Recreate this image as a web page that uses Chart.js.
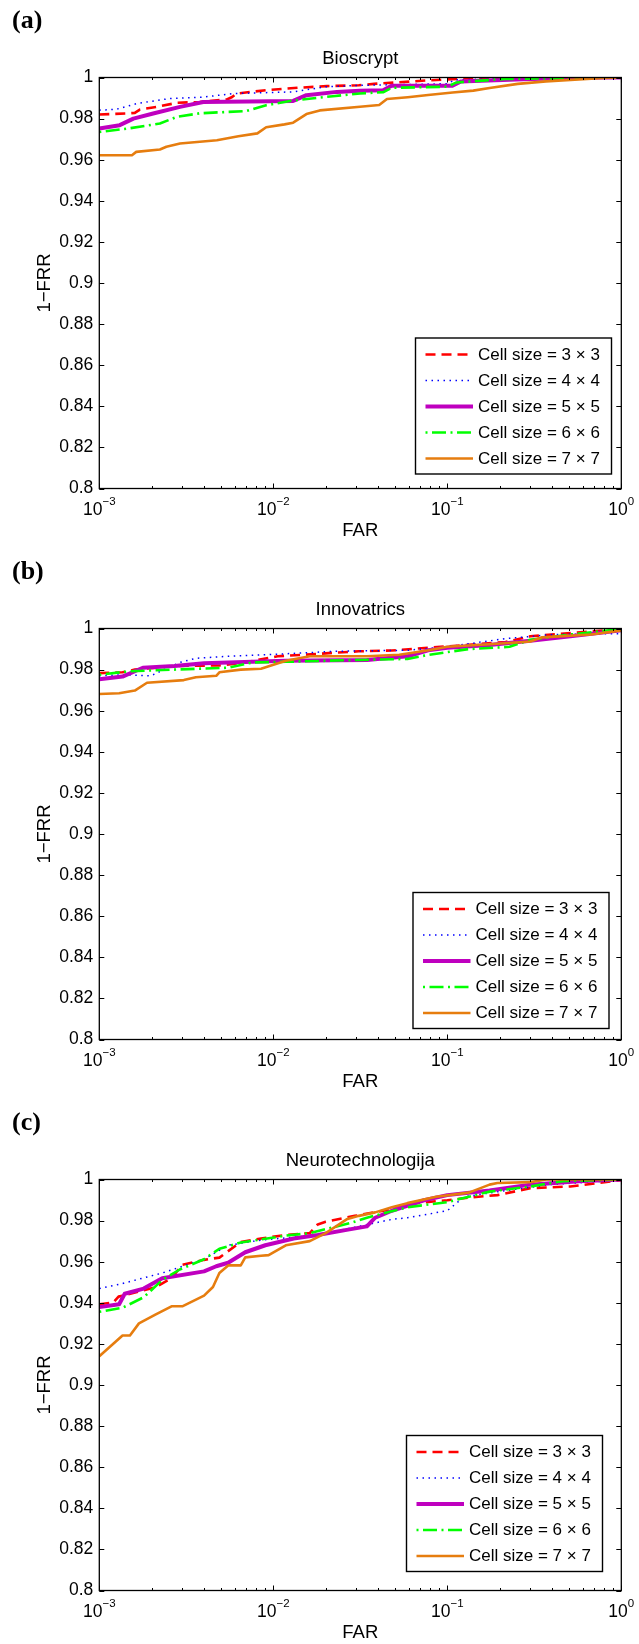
<!DOCTYPE html>
<html>
<head>
<meta charset="utf-8">
<title>ROC curves - cell size</title>
<script src="https://cdn.jsdelivr.net/npm/chart.js@4.4.1/dist/chart.umd.min.js"></script>
<style>
    body { margin: 0; background: #fff; width: 639px; height: 1644px; position: relative; overflow: hidden; }
    .panel { position: absolute; left: 0; width: 639px; }
    canvas { display: block; }
</style>
</head>
<body>
<div class="panel" style="top:0;height:551px"><canvas id="chartA" width="639" height="551"></canvas></div>
<div class="panel" style="top:551px;height:551px"><canvas id="chartB" width="639" height="551"></canvas></div>
<div class="panel" style="top:1102px;height:542px"><canvas id="chartC" width="639" height="542"></canvas></div>

<script>
// 1-FRR vs FAR, one panel per matcher

var farTicks = [0.001, 0.01, 0.1, 1];
var farTickExps = ['\u22123', '\u22122', '\u22121', '0'];
var cellLabels = ['Cell size = 3 \u00d7 3', 'Cell size = 4 \u00d7 4', 'Cell size = 5 \u00d7 5', 'Cell size = 6 \u00d7 6', 'Cell size = 7 \u00d7 7'];

// (a) Bioscrypt
var bioFar33 = [0.001, 0.00144, 0.0016, 0.00171, 0.00214, 0.0028, 0.00379, 0.00541, 0.0058, 0.00616, 0.0091, 0.0138, 0.0203, 0.031, 0.038, 0.0776, 0.125, 0.5, 1];
var bioRate33 = [0.982, 0.9825, 0.9828, 0.9844, 0.9857, 0.9877, 0.9881, 0.9893, 0.9905, 0.9922, 0.9938, 0.995, 0.9958, 0.9962, 0.9969, 0.9986, 0.9995, 1, 1];
var bioFar44 = [0.001, 0.00125, 0.00164, 0.00255, 0.004, 0.0059, 0.013, 0.02, 0.0315, 0.06, 0.1, 0.11, 0.175, 0.4, 1];
var bioRate44 = [0.9841, 0.9845, 0.9873, 0.9898, 0.9905, 0.9922, 0.993, 0.9955, 0.9962, 0.9966, 0.997, 0.9988, 0.9993, 1, 1];
var bioFar55 = [0.001, 0.00131, 0.00157, 0.00204, 0.00291, 0.00396, 0.013, 0.0155, 0.0232, 0.0315, 0.0428, 0.0478, 0.107, 0.119, 0.3, 0.8, 1];
var bioRate55 = [0.9752, 0.9768, 0.98, 0.9825, 0.9857, 0.9881, 0.9886, 0.9914, 0.993, 0.9935, 0.9938, 0.996, 0.996, 0.998, 0.9993, 1, 1];
var bioFar66 = [0.001, 0.00144, 0.00223, 0.00278, 0.00379, 0.007, 0.0091, 0.013, 0.022, 0.0315, 0.043, 0.048, 0.1, 0.113, 0.216, 1];
var bioRate66 = [0.9735, 0.9751, 0.9776, 0.9808, 0.9826, 0.9837, 0.9865, 0.9888, 0.9909, 0.9922, 0.9929, 0.995, 0.9955, 0.9976, 0.9993, 1];
var bioFar77 = [0.001, 0.00154, 0.00163, 0.00223, 0.00243, 0.00291, 0.00474, 0.0063, 0.0081, 0.0091, 0.0116, 0.013, 0.0155, 0.0185, 0.0315, 0.0406, 0.045, 0.0592, 0.0776, 0.1073, 0.141, 0.175, 0.254, 0.369, 0.79, 1];
var bioRate77 = [0.9622, 0.9622, 0.9638, 0.965, 0.9663, 0.9679, 0.9695, 0.9714, 0.9728, 0.9758, 0.9772, 0.978, 0.9822, 0.984, 0.9858, 0.9866, 0.9895, 0.9904, 0.9915, 0.9927, 0.9936, 0.9949, 0.9969, 0.9981, 0.9998, 1];

// (b) Innovatrics
var innFar33 = [0.001, 0.00136, 0.0016, 0.00274, 0.0049, 0.00686, 0.0106, 0.018, 0.0224, 0.031, 0.048, 0.1, 0.216, 0.3, 1];
var innRate33 = [0.9783, 0.9787, 0.98, 0.9818, 0.982, 0.9835, 0.9865, 0.9876, 0.9882, 0.9889, 0.9893, 0.9913, 0.9934, 0.9962, 0.9997];
var innFar44 = [0.001, 0.00136, 0.00198, 0.0029, 0.00359, 0.0055, 0.0118, 0.0224, 0.059, 0.1, 0.156, 0.216, 0.41, 1];
var innRate44 = [0.977, 0.9775, 0.977, 0.9835, 0.9855, 0.9865, 0.9877, 0.9889, 0.9894, 0.9911, 0.9934, 0.9951, 0.9971, 0.9975];
var innFar55 = [0.001, 0.00136, 0.00178, 0.0027, 0.004, 0.0076, 0.0118, 0.0345, 0.0592, 0.0776, 0.1, 0.175, 0.3, 0.51, 1];
var innRate55 = [0.9753, 0.9766, 0.9809, 0.9818, 0.9831, 0.9838, 0.9843, 0.9847, 0.9865, 0.9894, 0.9906, 0.992, 0.994, 0.9962, 0.9991];
var innFar66 = [0.001, 0.0015, 0.0036, 0.0055, 0.0076, 0.0118, 0.031, 0.059, 0.078, 0.133, 0.228, 0.3, 0.51, 1];
var innRate66 = [0.9775, 0.9792, 0.9804, 0.9809, 0.9835, 0.9838, 0.9847, 0.9852, 0.9872, 0.99, 0.9911, 0.9945, 0.9971, 0.9997];
var innFar77 = [0.001, 0.0013, 0.0016, 0.00188, 0.00306, 0.00359, 0.0047, 0.0049, 0.0065, 0.0085, 0.0118, 0.0162, 0.0345, 0.053, 0.078, 0.1, 0.175, 0.3, 0.35, 0.67, 1];
var innRate77 = [0.9681, 0.9685, 0.9698, 0.9736, 0.9749, 0.9763, 0.977, 0.9787, 0.98, 0.9804, 0.9843, 0.9865, 0.9865, 0.9872, 0.9894, 0.9911, 0.9923, 0.9937, 0.9957, 0.9971, 0.9991];

// (c) Neurotechnologija
var neuFar33 = [0.001, 0.0012, 0.00129, 0.0021, 0.0026, 0.003, 0.004, 0.0049, 0.0065, 0.0085, 0.0118, 0.0162, 0.018, 0.02, 0.0294, 0.0453, 0.059, 0.1, 0.133, 0.194, 0.3, 0.51, 1];
var neuRate33 = [0.9393, 0.9401, 0.943, 0.9475, 0.952, 0.9585, 0.9609, 0.962, 0.9696, 0.9713, 0.973, 0.9739, 0.9781, 0.9794, 0.9823, 0.9852, 0.9882, 0.9899, 0.9912, 0.9924, 0.9958, 0.9966, 0.9997];
var neuFar44 = [0.001, 0.00136, 0.0023, 0.004, 0.0055, 0.0085, 0.018, 0.028, 0.048, 0.059, 0.1, 0.125, 0.216, 0.39, 1];
var neuRate44 = [0.9469, 0.9494, 0.9545, 0.9612, 0.968, 0.9705, 0.973, 0.9764, 0.9806, 0.9814, 0.9848, 0.9916, 0.9946, 0.9975, 0.9997];
var neuFar55 = [0.001, 0.0013, 0.0014, 0.0018, 0.0023, 0.004, 0.0047, 0.0055, 0.0069, 0.009, 0.0131, 0.018, 0.0264, 0.0345, 0.0385, 0.048, 0.0735, 0.1, 0.175, 0.3, 0.57, 1];
var neuRate55 = [0.9379, 0.9393, 0.9444, 0.9469, 0.9519, 0.9553, 0.9578, 0.9595, 0.9646, 0.968, 0.9713, 0.973, 0.9755, 0.9772, 0.9814, 0.9848, 0.9899, 0.9924, 0.9946, 0.9975, 0.9992, 1];
var neuFar66 = [0.001, 0.00136, 0.0018, 0.0023, 0.0029, 0.004, 0.0049, 0.0065, 0.0118, 0.0162, 0.028, 0.0345, 0.059, 0.1, 0.175, 0.3, 0.46, 1];
var neuRate66 = [0.9356, 0.9376, 0.9427, 0.9511, 0.9562, 0.9612, 0.9663, 0.9693, 0.9727, 0.9739, 0.9789, 0.9814, 0.9865, 0.989, 0.9941, 0.9966, 0.9992, 1];
var neuFar77 = [0.001, 0.00136, 0.0015, 0.00169, 0.0021, 0.0026, 0.003, 0.004, 0.0045, 0.0049, 0.0055, 0.0065, 0.0069, 0.0085, 0.0094, 0.0118, 0.0162, 0.02, 0.0264, 0.031, 0.0385, 0.048, 0.059, 0.0864, 0.133, 0.175, 0.194, 0.3, 0.37, 1];
var neuRate77 = [0.914, 0.9241, 0.9241, 0.93, 0.9342, 0.9383, 0.9383, 0.9435, 0.9477, 0.9545, 0.9582, 0.9582, 0.9621, 0.9629, 0.9632, 0.968, 0.97, 0.9739, 0.9806, 0.9823, 0.984, 0.9865, 0.9885, 0.9916, 0.9936, 0.9975, 0.9983, 0.9987, 1, 1];

// line styles, same order as cellLabels
var lineColors = ['#ff0000', '#0000ff', '#bf00bf', '#00ff00', 'rgb(230,125,15)'];
var lineWidths = [2.6, 1.5, 4, 2.6, 2.6];
var lineDashes = [[10, 6], [1.5, 4.5], [], [2, 4.5, 14, 4.5], []];

var SANS = '"Liberation Sans", Arial, Helvetica, sans-serif';
Chart.defaults.font.family = SANS;
Chart.defaults.color = '#000';

var PLOT_LEFT = 99.3;
var PLOT_RIGHT = 621.3;
var PLOT_TOP = 77.5;
var PLOT_BOTTOM = 488.5;

// MATLAB-looking box, inward ticks, labels and legend
var matlabFrame = {
    id: 'matlabFrame',
    afterDatasetsDraw: function (chart, args, opts) {
        var ctx = chart.ctx;
        var a = chart.chartArea;
        var x = chart.scales.x;
        var y = chart.scales.y;
        ctx.save();
        ctx.strokeStyle = '#000';
        ctx.lineWidth = 1;
        ctx.beginPath();
        y.ticks.forEach(function (t) {
            var py = Math.round(y.getPixelForValue(t.value)) + 0.5;
            ctx.moveTo(a.left, py); ctx.lineTo(a.left + 5, py);
            ctx.moveTo(a.right, py); ctx.lineTo(a.right - 5, py);
        });
        farTicks.forEach(function (d, i) {
            var px = Math.round(x.getPixelForValue(d)) + 0.5;
            ctx.moveTo(px, a.bottom); ctx.lineTo(px, a.bottom - 5);
            ctx.moveTo(px, a.top); ctx.lineTo(px, a.top + 5);
            if (i < farTicks.length - 1) {
                for (var m = 2; m <= 9; m++) {
                    var mx = Math.round(x.getPixelForValue(m * d)) + 0.5;
                    ctx.moveTo(mx, a.bottom); ctx.lineTo(mx, a.bottom - 2.5);
                    ctx.moveTo(mx, a.top); ctx.lineTo(mx, a.top + 2.5);
                }
            }
        });
        ctx.stroke();

        ctx.lineWidth = 1.3;
        ctx.strokeRect(a.left, a.top, a.right - a.left, a.bottom - a.top);

        // legend
        var lg = opts.legend;
        ctx.fillStyle = '#fff';
        ctx.fillRect(lg.left, lg.top, lg.width, lg.height);
        ctx.lineWidth = 1.4;
        ctx.strokeRect(lg.left, lg.top, lg.width, lg.height);
        ctx.font = '17px ' + SANS;
        ctx.textBaseline = 'middle';
        ctx.textAlign = 'left';
        chart.data.datasets.forEach(function (ds, i) {
            var ry = lg.top + 16.5 + i * 26;
            ctx.save();
            ctx.strokeStyle = ds.borderColor;
            ctx.lineWidth = ds.borderWidth;
            ctx.setLineDash(ds.borderDash);
            ctx.beginPath();
            ctx.moveTo(lg.left + 10, ry);
            ctx.lineTo(lg.left + 57.5, ry);
            ctx.stroke();
            ctx.restore();
            ctx.fillStyle = '#000';
            ctx.fillText(ds.label, lg.left + 62.5, ry + 0.5);
        });
        ctx.restore();
    },
    afterDraw: function (chart, args, opts) {
        var ctx = chart.ctx;
        var a = chart.chartArea;
        var x = chart.scales.x;
        var cx = (a.left + a.right) / 2;
        ctx.save();
        ctx.fillStyle = '#000';

        // panel letter
        ctx.font = 'bold 26px "Liberation Serif", "Times New Roman", serif';
        ctx.textAlign = 'left';
        ctx.textBaseline = 'alphabetic';
        ctx.fillText(opts.letter, 12, a.top - 49.5);

        // title
        ctx.font = '18.5px ' + SANS;
        ctx.textAlign = 'center';
        ctx.fillText(opts.title, cx, a.top - 13.5);

        // x tick labels: 10 with superscript exponent
        farTicks.forEach(function (d, i) {
            var px = x.getPixelForValue(d);
            ctx.font = '17.5px ' + SANS;
            var wBase = ctx.measureText('10').width;
            ctx.font = '11.5px ' + SANS;
            var wExp = ctx.measureText(farTickExps[i]).width;
            var start = px - (wBase + wExp) / 2;
            ctx.textAlign = 'left';
            ctx.font = '17.5px ' + SANS;
            ctx.fillText('10', start, a.bottom + 26.5);
            ctx.font = '11.5px ' + SANS;
            ctx.fillText(farTickExps[i], start + wBase, a.bottom + 16.5);
        });

        // axis titles
        ctx.font = '18.5px ' + SANS;
        ctx.textAlign = 'center';
        ctx.fillText('FAR', cx, a.bottom + 47);
        ctx.translate(50, (a.top + a.bottom) / 2);
        ctx.rotate(-Math.PI / 2);
        ctx.fillText('1\u2212FRR', 0, 0);
        ctx.restore();
    }
};

function buildPanel(canvasId, panel) {
    var canvas = document.getElementById(canvasId);
    var datasets = panel.series.map(function (s, i) {
        return {
            label: cellLabels[i],
            data: s[0].map(function (f, k) { return { x: f, y: s[1][k] }; }),
            borderColor: lineColors[i],
            borderWidth: lineWidths[i],
            borderDash: lineDashes[i],
            borderCapStyle: 'butt',
            borderJoinStyle: 'round',
            pointRadius: 0,
            fill: false,
            tension: 0,
            order: 5 - i
        };
    });
    return new Chart(canvas.getContext('2d'), {
        type: 'line',
        data: { datasets: datasets },
        options: {
            responsive: false,
            animation: false,
            devicePixelRatio: 1,
            events: [],
            layout: {
                padding: { left: 0, right: canvas.width - PLOT_RIGHT, top: PLOT_TOP, bottom: canvas.height - PLOT_BOTTOM }
            },
            plugins: {
                legend: { display: false },
                tooltip: { enabled: false },
                matlabFrame: { letter: panel.letter, title: panel.title, legend: panel.legend }
            },
            scales: {
                x: {
                    type: 'logarithmic',
                    min: 0.001,
                    max: 1,
                    display: false
                },
                y: {
                    type: 'linear',
                    min: 0.8,
                    max: 1,
                    afterFit: function (scale) { scale.width = PLOT_LEFT; },
                    border: { display: false },
                    grid: { display: false, drawTicks: false },
                    ticks: {
                        stepSize: 0.02,
                        padding: 6,
                        color: '#000',
                        font: { size: 17.5 },
                        callback: function (v) { return String(+Number(v).toFixed(2)); }
                    }
                }
            }
        },
        plugins: [matlabFrame]
    });
}

buildPanel('chartA', {
    letter: '(a)', title: 'Bioscrypt',
    legend: { left: 415.5, top: 338, width: 196, height: 136 },
    series: [[bioFar33, bioRate33], [bioFar44, bioRate44], [bioFar55, bioRate55], [bioFar66, bioRate66], [bioFar77, bioRate77]]
});
buildPanel('chartB', {
    letter: '(b)', title: 'Innovatrics',
    legend: { left: 413, top: 341.5, width: 196, height: 136 },
    series: [[innFar33, innRate33], [innFar44, innRate44], [innFar55, innRate55], [innFar66, innRate66], [innFar77, innRate77]]
});
buildPanel('chartC', {
    letter: '(c)', title: 'Neurotechnologija',
    legend: { left: 406.5, top: 333.5, width: 196, height: 136 },
    series: [[neuFar33, neuRate33], [neuFar44, neuRate44], [neuFar55, neuRate55], [neuFar66, neuRate66], [neuFar77, neuRate77]]
});
</script>
</body>
</html>
